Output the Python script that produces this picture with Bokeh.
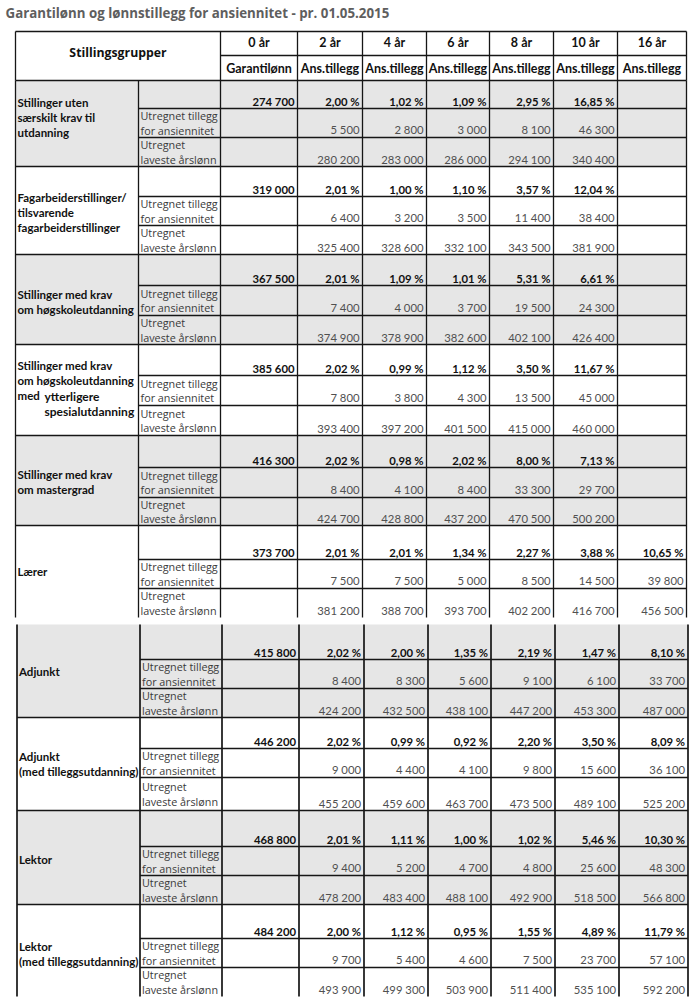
from bokeh.plotting import figure
from bokeh.models import Range1d, ColumnDataSource
from bokeh.core.properties import value
from bokeh.embed import file_html
from bokeh.resources import INLINE

# ---------------- data ----------------
title = "Garantilønn og lønnstillegg for ansiennitet - pr. 01.05.2015"
header_group = "Stillingsgrupper"
years = ["0 år", "2 år", "4 år", "6 år", "8 år", "10 år", "16 år"]
col_heads = ["Garantilønn", "Ans.tillegg", "Ans.tillegg", "Ans.tillegg",
             "Ans.tillegg", "Ans.tillegg", "Ans.tillegg"]
sub_label_tillegg = ["Utregnet tillegg", "for ansiennitet"]
sub_label_lonn = ["Utregnet", "laveste årslønn"]

groups = [
    ["Stillinger uten", "særskilt krav til", "utdanning"],
    ["Fagarbeiderstillinger/", "tilsvarende", "fagarbeiderstillinger"],
    ["Stillinger med krav", "om høgskoleutdanning"],
    ["Stillinger med krav", "om høgskoleutdanning", "med", ""],
    ["Stillinger med krav", "om mastergrad"],
    ["Lærer"],
    ["Adjunkt"],
    ["Adjunkt", "(med tilleggsutdanning)"],
    ["Lektor"],
    ["Lektor", "(med tilleggsutdanning)"],
]
group4_extra = ["ytterligere", "spesialutdanning"]

garantilonn = [274700, 319000, 367500, 385600, 416300, 373700, 415800, 446200, 468800, 484200]

# Ans.tillegg (%) for 2, 4, 6, 8, 10, 16 år
pct = [
    [2.00, 1.02, 1.09, 2.95, 16.85, None],
    [2.01, 1.00, 1.10, 3.57, 12.04, None],
    [2.01, 1.09, 1.01, 5.31, 6.61, None],
    [2.02, 0.99, 1.12, 3.50, 11.67, None],
    [2.02, 0.98, 2.02, 8.00, 7.13, None],
    [2.01, 2.01, 1.34, 2.27, 3.88, 10.65],
    [2.02, 2.00, 1.35, 2.19, 1.47, 8.10],
    [2.02, 0.99, 0.92, 2.20, 3.50, 8.09],
    [2.01, 1.11, 1.00, 1.02, 5.46, 10.30],
    [2.00, 1.12, 0.95, 1.55, 4.89, 11.79],
]
# Utregnet tillegg for ansiennitet
tillegg = [
    [5500, 2800, 3000, 8100, 46300, None],
    [6400, 3200, 3500, 11400, 38400, None],
    [7400, 4000, 3700, 19500, 24300, None],
    [7800, 3800, 4300, 13500, 45000, None],
    [8400, 4100, 8400, 33300, 29700, None],
    [7500, 7500, 5000, 8500, 14500, 39800],
    [8400, 8300, 5600, 9100, 6100, 33700],
    [9000, 4400, 4100, 9800, 15600, 36100],
    [9400, 5200, 4700, 4800, 25600, 48300],
    [9700, 5400, 4600, 7500, 23700, 57100],
]
# Utregnet laveste årslønn
arslonn = [
    [280200, 283000, 286000, 294100, 340400, None],
    [325400, 328600, 332100, 343500, 381900, None],
    [374900, 378900, 382600, 402100, 426400, None],
    [393400, 397200, 401500, 415000, 460000, None],
    [424700, 428800, 437200, 470500, 500200, None],
    [381200, 388700, 393700, 402200, 416700, 456500],
    [424200, 432500, 438100, 447200, 453300, 487000],
    [455200, 459600, 463700, 473500, 489100, 525200],
    [478200, 483400, 488100, 492900, 518500, 566800],
    [493900, 499300, 503900, 511400, 535100, 592200],
]

# ---------------- layout (pixel geometry of the table) ----------------
col_edges = [15, 138, 220, 297, 362, 426, 489, 553, 617, 686]
head_top, head_mid, head_bot = 31, 55, 80
group_rows = [
    [80, 108, 137, 166],
    [166, 196, 225, 254],
    [254, 285, 315, 344],
    [344, 375, 405, 435],
    [435, 467, 497, 525],
    [525, 559, 588, 617],
    [624, 659, 688, 717],
    [717, 748, 777, 810],
    [810, 846, 875, 904],
    [904, 938, 967, 996],
]
label_offset = [-6, 2, 2, -2, 1, 0, 0, 0, 2, 3]
lower_start = 6          # first group of the second page section
lower_shift = 1.5
line_step = 15
pad_r = 3

GRAY = "#e6e6e6"
LINE = "#161616"


def kr(v):
    return f"{v:,}".replace(",", " ")


def pc(v):
    return f"{v:.2f}".replace(".", ",") + " %"


p = figure(width=691, height=1000, x_range=Range1d(0, 691), y_range=Range1d(1000, 0),
           output_backend="svg", toolbar_location=None, min_border=0,
           x_axis_type=None, y_axis_type=None)
p.grid.visible = False
p.outline_line_color = None
p.background_fill_color = "white"
p.border_fill_color = "white"

# ---- gray bands ----
band = dict(l=[], r=[], t=[], b=[])
for g in range(len(groups)):
    if g % 2 == 0:
        s = lower_shift if g >= lower_start else 0
        band["l"].append(col_edges[0] + s)
        band["r"].append(col_edges[-1] + s)
        band["t"].append(group_rows[g][0])
        band["b"].append(group_rows[g][3])
p.quad(left="l", right="r", top="t", bottom="b", source=ColumnDataSource(band),
       fill_color=GRAY, line_color=None)

# ---- lines ----
seg = dict(x0=[], y0=[], x1=[], y1=[])
seg_thick = dict(x0=[], y0=[], x1=[], y1=[])


def add(d, x0, y0, x1, y1):
    d["x0"].append(x0); d["y0"].append(y0); d["x1"].append(x1); d["y1"].append(y1)


L, R = col_edges[0], col_edges[-1]
add(seg, L, head_top, R, head_top)
add(seg, col_edges[2], head_mid, R, head_mid)
add(seg, L, head_bot, R, head_bot)
for i, x in enumerate(col_edges):
    if i != 1:
        add(seg, x, head_top, x, head_bot)
upper_top = group_rows[0][0]
upper_bot = group_rows[lower_start - 1][3]
lower_top = group_rows[lower_start][0]
lower_bot = group_rows[-1][3]
for x in col_edges:
    add(seg, x, upper_top, x, upper_bot)
    add(seg_thick, x + lower_shift, lower_top, x + lower_shift, lower_bot)
for g, rows in enumerate(group_rows):
    s = lower_shift if g >= lower_start else 0
    d = seg_thick if g >= lower_start else seg
    add(d, col_edges[1] + s, rows[1], R + s, rows[1])
    add(d, col_edges[1] + s, rows[2], R + s, rows[2])
    if g not in (lower_start - 1, len(group_rows) - 1):
        add(d, L + s, rows[3], R + s, rows[3])
p.segment("x0", "y0", "x1", "y1", source=ColumnDataSource(seg), line_color=LINE, line_width=1.3)
p.segment("x0", "y0", "x1", "y1", source=ColumnDataSource(seg_thick), line_color=LINE, line_width=1.7)

# ---- title & header ----
p.text(x=[5], y=[12], text=[title], text_font=value("Open Sans"), text_font_style="bold",
       text_font_size="13.3px", text_color="#5e5e5e", text_baseline="middle", text_align="left")
p.text(x=[(col_edges[0] + col_edges[2]) / 2], y=[52], text=[header_group],
       text_font=value("Open Sans"), text_font_style="bold", text_font_size="12.3px",
       text_color="#111111", text_baseline="middle", text_align="center")
hx, hy, ht = [], [], []
for j in range(7):
    cx = (col_edges[j + 2] + col_edges[j + 3]) / 2
    hx += [cx, cx]
    hy += [(head_top + head_mid) / 2 - 1, (head_mid + head_bot) / 2]
    ht += [years[j], col_heads[j]]
p.text(x=hx, y=hy, text=ht, text_font=value("Lato"), text_font_style="bold",
       text_font_size="12.5px", text_color="#111111", text_baseline="middle", text_align="center")

# ---- group labels ----
gx, gy, gt = [], [], []
ex, ey, et = [], [], []
for g, lines in enumerate(groups):
    s = lower_shift if g >= lower_start else 0
    top, _, _, bot = group_rows[g]
    c = (top + bot) / 2 + label_offset[g]
    n = len(lines)
    for i, ln in enumerate(lines):
        yy = c + (i - (n - 1) / 2) * line_step
        if ln:
            gx.append(17 + s); gy.append(yy); gt.append(ln)
        if g == 3 and i >= 2:
            ex.append(44); ey.append(yy + 1); et.append(group4_extra[i - 2])
p.text(x=gx, y=gy, text=gt, text_font=value("Lato"), text_font_style="bold",
       text_font_size="11.5px", text_color="#111111", text_baseline="middle", text_align="left")
p.text(x=ex, y=ey, text=et, text_font=value("Lato"), text_font_style="bold",
       text_font_size="12px", text_color="#111111", text_baseline="middle", text_align="left")

# ---- sub-row labels ----
sx, sy, st = [], [], []
for g in range(len(groups)):
    s = lower_shift if g >= lower_start else 0
    rows = group_rows[g]
    for k, lab in enumerate([sub_label_tillegg, sub_label_lonn]):
        c = (rows[k + 1] + rows[k + 2]) / 2
        sx += [140 + s, 140 + s]
        sy += [c - 7.5, c + 7]
        st += lab
p.text(x=sx, y=sy, text=st, text_font=value("Open Sans"), text_font_size="10.8px",
       text_color="#3a3a3a", text_baseline="middle", text_align="left")

# ---- values ----
mx, my, mt = [], [], []
vx, vy, vt = [], [], []
for g in range(len(groups)):
    s = lower_shift if g >= lower_start else 0
    rows = group_rows[g]
    mx.append(col_edges[3] - pad_r + s); my.append(rows[1] - 7.5); mt.append(kr(garantilonn[g]))
    for j in range(6):
        xr = col_edges[j + 4] - pad_r + s
        if pct[g][j] is not None:
            mx.append(xr); my.append(rows[1] - 7.5); mt.append(pc(pct[g][j]))
        if tillegg[g][j] is not None:
            vx.append(xr); vy.append(rows[2] - 8); vt.append(kr(tillegg[g][j]))
        if arslonn[g][j] is not None:
            vx.append(xr); vy.append(rows[3] - 7.5); vt.append(kr(arslonn[g][j]))
p.text(x=mx, y=my, text=mt, text_font=value("Lato"), text_font_style="bold",
       text_font_size="11.3px", text_color="#111111", text_baseline="middle", text_align="right")
p.text(x=vx, y=vy, text=vt, text_font=value("Lato"), text_font_size="11.3px",
       text_color="#505050", text_baseline="middle", text_align="right")

open("out.html", "w").write(file_html(p, INLINE))
